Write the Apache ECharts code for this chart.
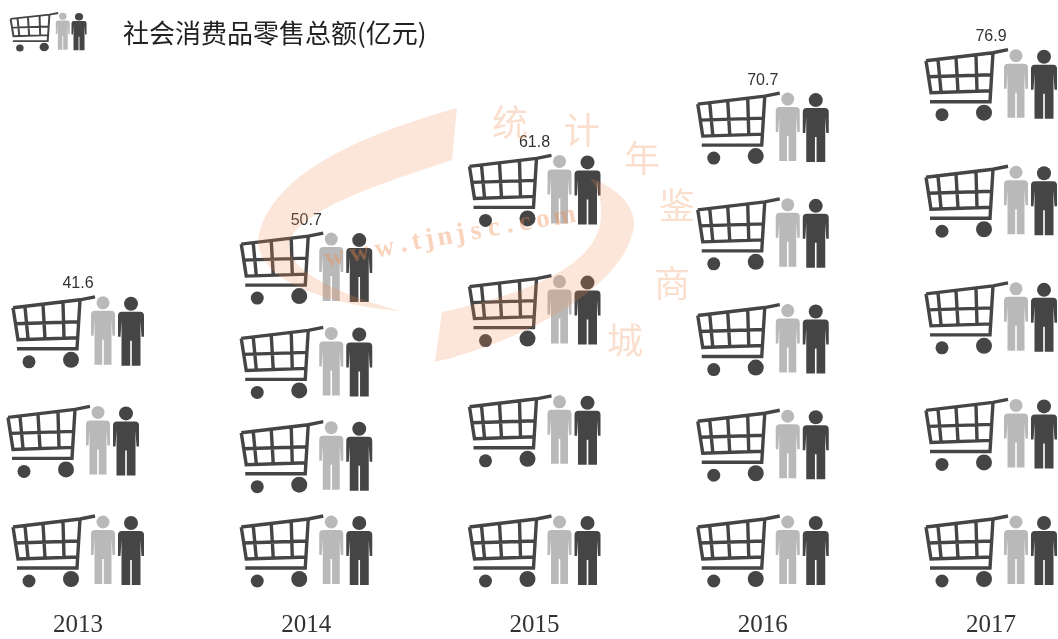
<!DOCTYPE html>
<html>
<head>
<meta charset="utf-8">
<style>
html, body { margin: 0; padding: 0; background: #fff; }
#chart { width: 1058px; height: 639px; }
</style>
<script src="https://cdn.jsdelivr.net/npm/echarts@6/dist/echarts.min.js"></script>
</head>
<body>
<div id="chart"></div>
<script>
var years = ['2013', '2014', '2015', '2016', '2017'];
var values = [41.6, 50.7, 61.8, 70.7, 76.9];
var iconCounts = [3, 4, 4, 5, 5];

var titleText = '社会消费品零售总额(亿元)';
var markChars = ['统', '计', '年', '鉴', '商', '城'];
var markUrl = 'www.tjnjsc.com';

var ICON_W = 132;
var ICON_H = 72;
var DARK = '#454545';
var LIGHT = '#b9b9b9';
var MARK = 'rgba(240,140,80,0.22)';

//小人轮廓
function personPath(cx, hw, top, bottom) {
    var arm = top + 25;
    var l = cx - hw, r = cx + hw;
    return 'M' + (l + 4) + ' ' + top + 'L' + (r - 4) + ' ' + top +
        'Q' + r + ' ' + top + ' ' + r + ' ' + (top + 4) +
        'L' + r + ' ' + arm + 'L' + (r - 2.5) + ' ' + arm + 'L' + (r - 3.5) + ' ' + (top + 9) +
        'L' + (r - 3.5) + ' ' + bottom + 'L' + (cx + 0.8) + ' ' + bottom + 'L' + (cx + 0.8) + ' ' + (top + 29) +
        'L' + (cx - 0.8) + ' ' + (top + 29) + 'L' + (cx - 0.8) + ' ' + bottom + 'L' + (l + 3.5) + ' ' + bottom +
        'L' + (l + 3.5) + ' ' + (top + 9) + 'L' + (l + 2.5) + ' ' + arm + 'L' + l + ' ' + arm +
        'L' + l + ' ' + (top + 4) + 'Q' + l + ' ' + top + ' ' + (l + 4) + ' ' + top + 'Z';
}

//购物车 + 两个小人
function iconChildren() {
    var cart = 'M1 11L68 3L83 0' +
        'M1 11L6 43L67 41' +
        'M3 27L67 25' +
        'M13 10L16 42M31 8L33 42M51 6L52 41' +
        'M68 3L65 52L5 52';
    return [
        { type: 'path', shape: { pathData: cart }, style: { fill: 'none', stroke: DARK, lineWidth: 3.4 } },
        { type: 'circle', shape: { cx: 17, cy: 65, r: 6.5 }, style: { fill: DARK } },
        { type: 'circle', shape: { cx: 59, cy: 63, r: 8 }, style: { fill: DARK } },
        { type: 'circle', shape: { cx: 91, cy: 6, r: 6.5 }, style: { fill: LIGHT } },
        { type: 'path', shape: { pathData: personPath(91, 12, 14, 68) }, style: { fill: LIGHT } },
        { type: 'circle', shape: { cx: 119, cy: 7, r: 7 }, style: { fill: DARK } },
        { type: 'path', shape: { pathData: personPath(119, 13, 15, 69) }, style: { fill: DARK } }
    ];
}

function renderColumn(params, api) {
    var idx = api.value(0);
    var top = api.coord([idx, api.value(1)]);
    var base = api.coord([idx, 0]);
    var count = iconCounts[idx];
    var lastTop = base[1] - ICON_H;
    var step = (lastTop - top[1]) / (count - 1);
    var children = [];
    for (var i = 0; i < count; i++) {
        children.push({
            type: 'group',
            x: top[0] - ICON_W / 2 + (idx === 0 && i === 1 ? -5 : 0),
            y: top[1] + step * i,
            children: iconChildren()
        });
    }
    children.push({
        type: 'text',
        x: top[0],
        y: top[1] - 13,
        style: {
            text: String(api.value(1)),
            fill: '#333',
            font: '16px "Liberation Sans", Arial, sans-serif',
            align: 'center',
            verticalAlign: 'middle'
        }
    });
    return { type: 'group', children: children };
}

//标题和水印
function renderDecor() {
    var list = [
        {
            type: 'group', x: 10, y: 13, scaleX: 0.58, scaleY: 0.54,
            children: iconChildren()
        },
        {
            type: 'text', x: 123, y: 33,
            style: { text: titleText, fill: '#222', font: '26px "Noto Sans CJK SC"', verticalAlign: 'middle' }
        },
        {
            type: 'path',
            shape: { pathData: 'M457 108C360 135 268 175 258 240C258 285 340 306 400 311C345 296 280 270 290 240C305 205 400 178 452 160Z' },
            style: { fill: MARK }
        },
        {
            type: 'path',
            shape: { pathData: 'M590 178C625 190 640 215 632 235C615 295 510 345 435 362L442 312C520 295 590 270 600 225C603 205 600 190 590 178Z' },
            style: { fill: MARK }
        }
    ];
    var pos = [[510, 122], [582, 130], [642, 158], [677, 205], [672, 283], [625, 340]];
    markChars.forEach(function (c, i) {
        list.push({
            type: 'text', x: pos[i][0], y: pos[i][1],
            style: { text: c, fill: 'rgba(240,140,80,0.28)', font: '36px "Noto Sans CJK SC"', align: 'center', verticalAlign: 'middle' }
        });
    });
    var px = 322;
    markUrl.split('').forEach(function (c) {
        var adv = (c === 'w' || c === 'm') ? 25 : (c === '.' || c === 'j' || c === 't') ? 13 : 18;
        list.push({
            type: 'text', x: px + adv / 2, y: 258 - (px - 322) * 0.18, rotation: 0.18,
            style: { text: c, fill: 'rgba(240,140,80,0.38)', font: 'bold 27px "Liberation Serif"', align: 'center', verticalAlign: 'middle' }
        });
        px += adv;
    });
    return { type: 'group', children: list };
}

var chart = echarts.init(document.getElementById('chart'), null, { renderer: 'canvas' });
chart.setOption({
    backgroundColor: '#fff',
    animation: false,
    grid: { left: 78, width: 913, top: 28, height: 560 },
    xAxis: {
        type: 'category',
        data: years,
        boundaryGap: false,
        axisLine: { show: false },
        axisTick: { show: false },
        axisLabel: {
            margin: 25,
            interval: 0,
            color: '#333',
            fontSize: 25,
            fontFamily: '"Liberation Serif", serif'
        }
    },
    yAxis: { type: 'value', min: 0, max: 80, show: false },
    series: [{
        type: 'custom',
        z: 5,
        renderItem: renderColumn,
        encode: { x: 0, y: 1 },
        data: values.map(function (v, i) { return [i, v]; })
    }, {
        type: 'custom',
        z: 20,
        silent: true,
        renderItem: renderDecor,
        data: [[0, 0]]
    }]
});
</script>
</body>
</html>
